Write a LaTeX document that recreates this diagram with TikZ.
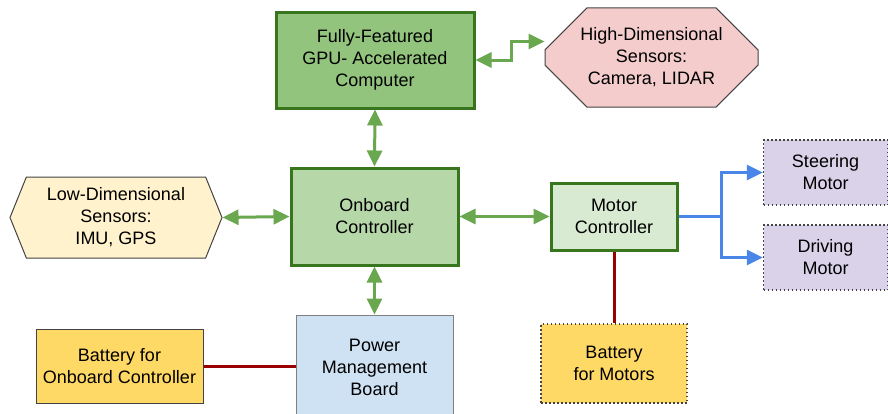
\documentclass[tikz,border=0pt]{standalone}
\usepackage{fontspec}
\setmainfont{Liberation Sans}
\usepackage{tikz}
\usetikzlibrary{arrows,arrows.meta,shapes,positioning,calc}
\definecolor{verdeOscuro}{HTML}{38761D}
\definecolor{verde}{HTML}{6AA84F}
\definecolor{verdeGPU}{HTML}{93C47D}
\definecolor{verdeMedio}{HTML}{B6D7A8}
\definecolor{verdeClaro}{HTML}{D9EAD3}
\definecolor{rosa}{HTML}{F4CCCC}
\definecolor{crema}{HTML}{FFF2CC}
\definecolor{lila}{HTML}{D9D2E9}
\definecolor{celeste}{HTML}{CFE2F3}
\definecolor{amarillo}{HTML}{FFD966}
\definecolor{rojo}{HTML}{990000}
\definecolor{azul}{HTML}{4A86E8}
\definecolor{grisOscuro}{HTML}{434343}
\tikzstyle{block}   =[rectangle, draw=grisOscuro, line width=1pt,
                      align=center, inner sep=0pt,
                      font=\fontsize{18}{22}\selectfont]
\tikzstyle{cpu}     =[block, draw=verdeOscuro, line width=3pt]
\tikzstyle{motorbox}=[block, fill=lila, draw=grisOscuro,
                      dash pattern=on 1.5pt off 2.5pt, line width=1.5pt]
\tikzstyle{link}    =[{Triangle[length=16pt,width=15pt]}-{Triangle[length=16pt,width=15pt]},
                      line width=3pt, verde]
\tikzstyle{drive}   =[-{Triangle[length=16pt,width=15pt]},
                      line width=3pt, azul]
\tikzstyle{power}   =[line width=3pt, rojo]

\begin{document}
\begin{tikzpicture}[x=1pt,y=-1pt]
    \useasboundingbox (0,0) rectangle (888,413);

        \begin{scope}[]
            \draw (375,60) node (gpu) [cpu,fill=verdeGPU,minimum width=198,minimum height=96] {Fully-Featured\\GPU- Accelerated\\Computer};
            \draw (651.5,57.5) node (hds) [block,fill=rosa,chamfered rectangle,chamfered rectangle xsep=22,chamfered rectangle ysep=20,minimum width=213,minimum height=81] {High-Dimensional\\Sensors:\\Camera, LIDAR};
            \draw (374.5,216.5) node (obc) [cpu,fill=verdeMedio,minimum width=167,minimum height=97] {Onboard\\Controller};
            \draw (116,217.5) node (lds) [block,fill=crema,signal,signal to=west and east,signal pointer angle=136,minimum width=212,minimum height=81] {Low-Dimensional\\Sensors:\\IMU, GPS};
            \draw (614,216.5) node (mc) [cpu,fill=verdeClaro,minimum width=126,minimum height=67] {Motor\\Controller};
            \draw (825.5,172.5) node (sm) [motorbox,minimum width=124,minimum height=65] {Steering\\Motor};
            \draw (825.5,257.5) node (dm) [motorbox,minimum width=124,minimum height=65] {Driving\\Motor};
            \draw (374.5,367) node (pmb) [block,draw=gray,fill=celeste,minimum width=157,minimum height=104] {Power\\Management\\Board};
            \draw (119.5,366) node (bob) [block,fill=amarillo,minimum width=167,minimum height=74] {Battery for\\Onboard Controller};
            \draw (614,363.5) node (bm) [motorbox,fill=amarillo,minimum width=146,minimum height=79] {Battery\\for Motors};
        \end{scope}

        % data links
        \coordinate (hdsin) at ($(hds.west)+(0,-16)$);
        \draw [link] (gpu.east) -- ++(36,0) |- (hdsin);
        \draw [link] (gpu.south) -- (obc.north);
        \draw [link] (lds.east) -- (obc.west);
        \draw [link] (obc.east) -- (mc.west);
        \draw [link] (obc.south) -- (pmb.north);

        % motor outputs
        \coordinate (split) at ($(mc.east)+(43,0)$);
        \draw [line width=3pt, azul] (mc.east) -- (split);
        \foreach \m in {sm,dm}
            \draw [drive] (split) |- (\m.west);

        % power
        \draw [power] (bob.east) -- (bob.east -| pmb.west);
        \draw [power] (mc.south) -- (bm.north);

\end{tikzpicture}
\end{document}
